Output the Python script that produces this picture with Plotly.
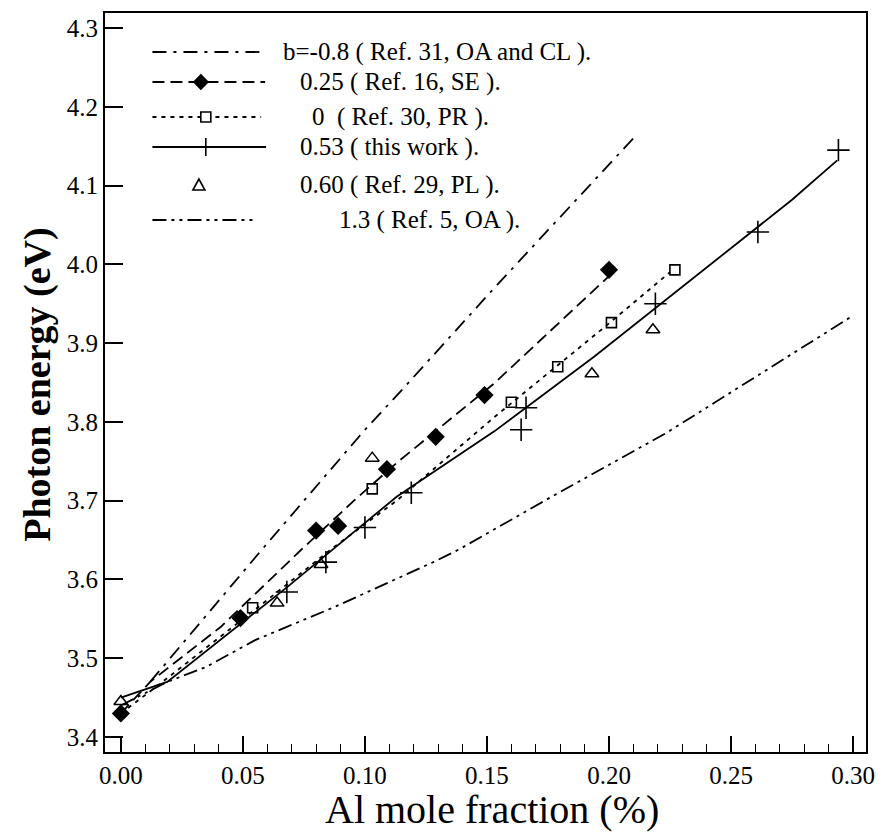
import plotly.graph_objects as go

# ---------------- data ----------------
# bowing-parameter curves
lineA_x = [0.012, 0.057, 0.100, 0.115, 0.153, 0.183, 0.210]          # b = -0.8
lineA_y = [3.470, 3.635, 3.790, 3.840, 3.970, 4.070, 4.160]
lineB_x = [0.000, 0.012, 0.041, 0.074, 0.0955, 0.113, 0.153, 0.200]  # b = 0.25
lineB_y = [3.430, 3.470, 3.540, 3.638, 3.700, 3.748, 3.849, 3.985]
lineC_x = [0.000, 0.015, 0.060, 0.086, 0.113, 0.153, 0.200, 0.225]   # b = 0
lineC_y = [3.430, 3.465, 3.574, 3.638, 3.700, 3.806, 3.925, 3.990]
lineD_x = [0.000, 0.019, 0.068, 0.113, 0.153, 0.194, 0.2506, 0.275, 0.2935]  # b = 0.53
lineD_y = [3.450, 3.470, 3.590, 3.705, 3.788, 3.883, 4.022, 4.082, 4.132]
lineE_x = [0.000, 0.019, 0.035, 0.055, 0.0875, 0.128, 0.1385, 0.1765, 0.2235, 0.299]  # b = 1.3
lineE_y = [3.440, 3.470, 3.489, 3.523, 3.565, 3.622, 3.638, 3.705, 3.786, 3.933]

# experimental points
se_x = [0.000, 0.049, 0.080, 0.089, 0.109, 0.129, 0.149, 0.200]      # Ref. 16, SE
se_y = [3.430, 3.551, 3.662, 3.668, 3.740, 3.781, 3.834, 3.993]
pr_x = [0.054, 0.103, 0.160, 0.179, 0.201, 0.227]                    # Ref. 30, PR
pr_y = [3.564, 3.715, 3.825, 3.870, 3.926, 3.993]
tw_x = [0.068, 0.084, 0.100, 0.119, 0.164, 0.166, 0.219, 0.261, 0.294]  # this work
tw_y = [3.584, 3.622, 3.666, 3.710, 3.790, 3.818, 3.950, 4.041, 4.145]
pl_x = [0.000, 0.064, 0.082, 0.103, 0.193, 0.218]                    # Ref. 29, PL
pl_y = [3.445, 3.570, 3.619, 3.754, 3.861, 3.917]

legend_labels = ["b=-0.8 ( Ref. 31, OA and CL ).", "0.25 ( Ref. 16, SE ).",
                 "0\u00a0\u00a0( Ref. 30, PR ).", "0.53 ( this work ).",
                 "0.60 ( Ref. 29, PL ).", "1.3 ( Ref. 5, OA )."]

x_ticks = [0.00, 0.05, 0.10, 0.15, 0.20, 0.25, 0.30]
y_ticks = [3.4, 3.5, 3.6, 3.7, 3.8, 3.9, 4.0, 4.1, 4.2, 4.3]

# ---------------- styles ----------------
DASH_A = "14px,7px,3px,7px"
DASH_B = "12px,6px"
DASH_C = "4px,5px"
DASH_E = "14px,5px,3px,5px,3px,5px"
SERIF = "Liberation Serif, Times New Roman, serif"

fig = go.Figure()
lw = 1.8
fig.add_trace(go.Scatter(x=lineA_x, y=lineA_y, mode="lines",
                         line=dict(color="black", width=lw, dash=DASH_A)))
fig.add_trace(go.Scatter(x=lineB_x, y=lineB_y, mode="lines",
                         line=dict(color="black", width=lw, dash=DASH_B)))
fig.add_trace(go.Scatter(x=lineC_x, y=lineC_y, mode="lines",
                         line=dict(color="black", width=lw, dash=DASH_C)))
fig.add_trace(go.Scatter(x=lineD_x, y=lineD_y, mode="lines",
                         line=dict(color="black", width=lw)))
fig.add_trace(go.Scatter(x=lineE_x, y=lineE_y, mode="lines",
                         line=dict(color="black", width=lw, dash=DASH_E)))

fig.add_trace(go.Scatter(x=pr_x, y=pr_y, mode="markers",
                         marker=dict(symbol="square-open", size=10, color="black",
                                     line=dict(width=1.6, color="black"))))
fig.add_trace(go.Scatter(x=pl_x, y=pl_y, mode="markers",
                         marker=dict(symbol="triangle-up-open", size=12, color="black",
                                     line=dict(width=1.5, color="black"))))
fig.add_trace(go.Scatter(x=tw_x, y=tw_y, mode="markers",
                         marker=dict(symbol="cross-thin", size=16, color="black",
                                     line=dict(width=1.6, color="black"))))
fig.add_trace(go.Scatter(x=se_x, y=se_y, mode="markers",
                         marker=dict(symbol="diamond", size=14, color="black",
                                     line=dict(width=0))))

# ---------------- manual legend ----------------
W, H = 882, 833
L, R, T, B = 105, 7, 13, 81
PW, PH = W - L - R, H - T - B


def px(xp):
    return (xp - L) / PW


def py(yp):
    return (H - B - yp) / PH


rows_y = [52, 82, 117, 147, 185, 220]
line_spans = [(153, 267), (153, 267), (153, 263), (153, 268), None, (153, 258)]
dashes = [DASH_A, DASH_B, DASH_C, "solid", None, DASH_E]
text_x = [283, 300, 312, 300, 300, 340]
shapes = []
for yy, span, dsh in zip(rows_y, line_spans, dashes):
    if span is None:
        continue
    shapes.append(dict(type="line", xref="paper", yref="paper",
                       x0=px(span[0]), x1=px(span[1]), y0=py(yy), y1=py(yy),
                       line=dict(color="black", width=lw, dash=dsh)))


def sym(path, xc, yc, fill):
    return dict(type="path", xref="paper", yref="paper", xsizemode="pixel",
                ysizemode="pixel", xanchor=px(xc), yanchor=py(yc), path=path,
                fillcolor="black" if fill else "white",
                line=dict(color="black", width=1.6))


shapes.append(sym("M -7,0 L 0,7 L 7,0 L 0,-7 Z", 202, rows_y[1], True))
shapes.append(sym("M -5,-5 L 5,-5 L 5,5 L -5,5 Z", 207, rows_y[2], False))
shapes.append(sym("M -8,0 L 8,0 M 0,-9 L 0,9", 207, rows_y[3], False))
shapes.append(sym("M -6,-5 L 6,-5 L 0,6 Z", 200, rows_y[4], False))

annotations = []
for yy, tx, lab in zip(rows_y, text_x, legend_labels):
    annotations.append(dict(text=lab, xref="paper", yref="paper", x=px(tx), y=py(yy),
                            xanchor="left", yanchor="middle", showarrow=False,
                            font=dict(family=SERIF, size=25, color="black")))

annotations.append(dict(text="<b>Photon energy (eV)</b>", xref="paper", yref="paper",
                        x=px(36), y=py(385), textangle=-90, showarrow=False,
                        xanchor="center", yanchor="middle",
                        font=dict(family=SERIF, size=38, color="black")))
annotations.append(dict(text="Al mole fraction (%)", xref="paper", yref="paper",
                        x=px(497), y=py(809), showarrow=False,
                        xanchor="center", yanchor="middle",
                        font=dict(family=SERIF, size=40, color="black")))

fig.update_layout(
    width=W, height=H, margin=dict(l=L, r=R, t=T, b=B),
    plot_bgcolor="white", paper_bgcolor="white", showlegend=False,
    shapes=shapes, annotations=annotations,
    xaxis=dict(range=[-0.0065, 0.3053], tickvals=x_ticks,
               ticktext=[f"{v:.2f}" for v in x_ticks],
               ticks="inside", ticklen=16, tickwidth=1.6, tickcolor="black",
               minor=dict(dtick=0.01, tick0=0, ticks="inside", ticklen=8,
                          tickwidth=1.4, tickcolor="black"),
               showline=True, linecolor="black", linewidth=2, mirror=True,
               showgrid=False, zeroline=False, ticklabeloverflow="allow",
               tickfont=dict(family=SERIF, size=25, color="black")),
    yaxis=dict(range=[3.381, 4.319], tickvals=y_ticks,
               ticktext=[f"{v:.1f}" for v in y_ticks],
               ticks="inside", ticklen=18, tickwidth=1.6, tickcolor="black",
               showline=True, linecolor="black", linewidth=2, mirror=True,
               showgrid=False, zeroline=False,
               tickfont=dict(family=SERIF, size=25, color="black")),
)

fig.write_html("out.html")
